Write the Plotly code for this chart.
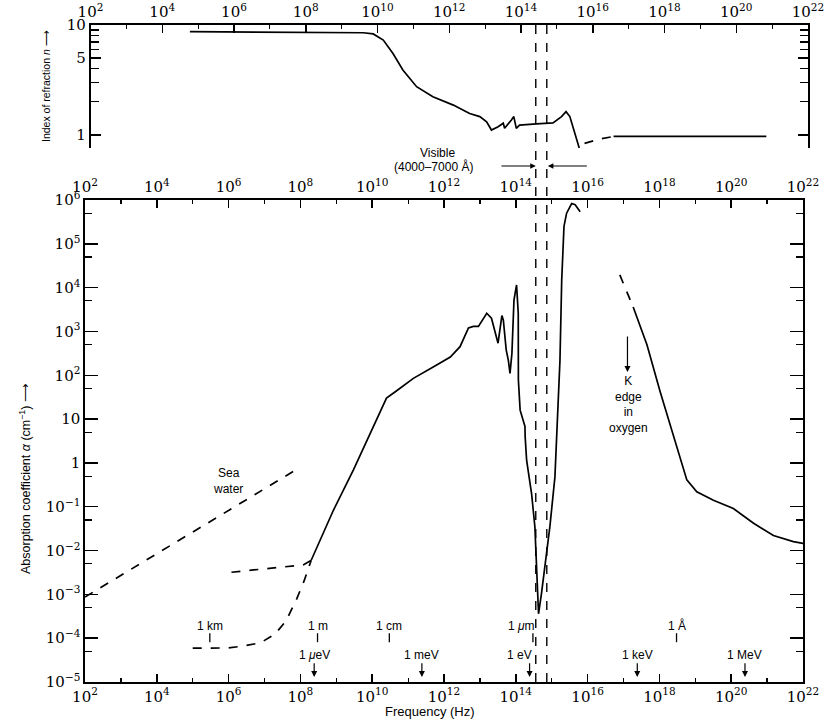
import numpy as np
import plotly.graph_objects as go

# ---------------- DATA ----------------
# Index of refraction n (top panel)
n_freq = [5.9e4, 1.0e9, 4.0e9, 7.6e9, 1.45e10, 2.7e10, 5.1e10, 1.23e11, 3.5e11, 1.3e12, 3.7e12,
          7.1e12, 1.1e13, 1.5e13, 2.3e13, 3.2e13, 3.5e13, 5.4e13, 6.3e13, 7.4e13, 9.1e13,
          2.7e14, 7.8e14, 1.35e15, 1.8e15, 2.3e15, 4.2e15]
n_vals = [8.7, 8.6, 8.5, 8.3, 7.3, 5.5, 3.9, 2.75, 2.23, 1.87, 1.57,
          1.47, 1.32, 1.11, 1.19, 1.28, 1.15, 1.37, 1.47, 1.15, 1.23,
          1.26, 1.29, 1.47, 1.63, 1.47, 0.76]
n_dash_freq = [5.9e15, 1.6e16, 3.8e16]
n_dash_vals = [0.84, 0.92, 0.97]
n_xray_freq = [3.8e16, 6.9e20]
n_xray_vals = [0.97, 0.97]

# Absorption coefficient alpha (bottom panel), cm^-1
abs_freq = [2.0e8, 8.3e8, 3.0e9, 8.7e9, 2.5e10, 4.4e10, 1.4e11, 5.0e11, 1.5e12, 2.8e12,
            4.8e12, 6.6e12, 9.1e12, 1.55e13, 2.1e13, 3.2e13, 4.1e13, 4.5e13, 5.4e13, 6.2e13,
            6.9e13, 7.8e13, 8.9e13, 1.05e14, 1.17e14, 1.18e14, 1.32e14, 1.8e14, 1.82e14, 2.0e14,
            2.75e14, 3.4e14, 4.0e14, 4.3e14, 5.2e14, 6.5e14, 8.9e14, 1.23e15, 1.5e15, 1.7e15,
            1.9e15, 2.1e15, 2.2e15, 2.6e15, 3.6e15, 4.5e15, 6.2e15]
abs_vals = [6.0e-3, 8.3e-2, 0.69, 4.7, 30, 42, 85, 155, 260, 450,
            1200, 1300, 1300, 2600, 2000, 540, 2300, 1800, 380, 220,
            110, 320, 5200, 11500, 2600, 78, 16, 6.8, 4.0, 1.15,
            0.2, 0.035, 2.5e-3, 3.6e-4, 1.05e-3, 4.3e-3, 0.035, 0.48, 16, 220,
            1.5e4, 1.2e5, 2.5e5, 5.0e5, 8.3e5, 7.8e5, 5.4e5]
sea_freq = [1.0e2, 7.6e7]
sea_vals = [8.7e-4, 0.7]
lowA_freq = [1.2e6, 2.7e7, 1.2e8, 2.0e8]
lowA_vals = [3.2e-3, 4.1e-3, 4.7e-3, 6.0e-3]
lowB_freq = [1.0e5, 1.0e6, 2.5e6, 7.9e6, 2.0e7, 4.0e7, 7.9e7, 1.26e8, 2.0e8]
lowB_vals = [5.9e-5, 6.0e-5, 6.6e-5, 7.9e-5, 1.26e-4, 2.5e-4, 7.9e-4, 2.0e-3, 6.0e-3]
xr_dash_freq = [7.9e16, 1.86e17]
xr_dash_vals = [1.95e4, 3.6e3]
xr_freq = [1.86e17, 4.5e17, 1.05e18, 2.45e18, 5.8e18, 1.1e19, 3.2e19, 1.15e20, 4.2e20,
           1.5e21, 5.4e21, 1.0e22]
xr_vals = [3.6e3, 500, 42, 4.0, 0.41, 0.22, 0.14, 0.091, 0.042, 0.022, 0.016, 0.0145]

visible_band = [3.6e14, 7.3e14]
k_edge_freq = 1.29e17

wl_labels = ["1 km", "1 m", "1 cm", "1 <i>μ</i>m", "1 Å"]
wl_freq = [3.0e5, 3.0e8, 3.0e10, 3.0e14, 3.0e18]
en_labels = ["1 <i>μ</i>eV", "1 meV", "1 eV", "1 keV", "1 MeV"]
en_freq = [2.42e8, 2.42e11, 2.42e14, 2.42e17, 2.42e20]

x_exps = list(range(2, 23, 2))
x_tick_text = [f"10<sup>{k}</sup>" for k in x_exps]
y_exps = list(range(-5, 7))
y_tick_text = ["10<sup>−5</sup>", "10<sup>−4</sup>", "10<sup>−3</sup>", "10<sup>−2</sup>",
               "10<sup>−1</sup>", "1", "10", "10<sup>2</sup>", "10<sup>3</sup>",
               "10<sup>4</sup>", "10<sup>5</sup>", "10<sup>6</sup>"]
n_tick_vals = [1, 5, 10]
n_tick_text = ["1", "5", "10"]
n_minor_vals = [2, 3, 4, 6, 7, 8, 9]

# ---------------- LAYOUT HELPERS ----------------
W, H = 836, 719
ML, MR, MT, MB = 85, 28, 25, 37
PW = W - ML - MR
PH = H - MT - MB


def px(x):  # page x pixel -> paper fraction
    return (x - ML) / PW


def py(y):  # page y pixel -> paper fraction
    return (H - MB - y) / PH


LW = 1.7
solid = dict(color="black", width=LW)
dashed = dict(color="black", width=LW, dash="dash")
serif = dict(family="DejaVu Serif", size=15, color="black")
sans = "Liberation Sans Narrow, Liberation Sans, Arial, sans-serif"

fig = go.Figure()


def add(x, y, line, xa="x2", ya="y2"):
    fig.add_trace(go.Scatter(x=x, y=y, mode="lines", line=line, xaxis=xa, yaxis=ya,
                             hoverinfo="skip", showlegend=False))


# top panel
add(n_freq, n_vals, solid, "x", "y")
add(n_dash_freq, n_dash_vals, dashed, "x", "y")
add(n_xray_freq, n_xray_vals, solid, "x", "y")

# bottom panel
add(abs_freq, abs_vals, solid)
add(sea_freq, sea_vals, dashed)
add(lowA_freq, lowA_vals, dashed)
add(lowB_freq, lowB_vals, dashed)
add(xr_dash_freq, xr_dash_vals, dashed)
add(xr_freq, xr_vals, solid)

# wavelength tick marks
tx, ty = [], []
for f in wl_freq:
    tx += [f, f, None]
    ty += [1.3e-4, 8.1e-5, None]
add(tx, ty, dict(color="black", width=1.3))

# dummy trace for top labels of bottom panel
fig.add_trace(go.Scatter(x=[1e2], y=[1], xaxis="x3", yaxis="y2", mode="markers",
                         marker=dict(opacity=0), hoverinfo="skip", showlegend=False))

xminor = [10.0 ** k for k in range(3, 22, 2)]
common_x = dict(type="log", range=[2, 22], tickvals=[10.0 ** k for k in x_exps],
                ticktext=x_tick_text, ticks="inside", ticklen=8, tickwidth=1.5,
                tickcolor="black", showline=True, linecolor="black", linewidth=1.6,
                showgrid=False, zeroline=False, tickfont=serif, automargin=False,
                minor=dict(tickvals=xminor, ticks="inside", ticklen=4, tickwidth=1.2,
                           tickcolor="black", showgrid=False))

yminor = [5.0 * 10.0 ** k for k in range(-5, 6)]

fig.update_layout(
    width=W, height=H,
    margin=dict(l=ML, r=MR, t=MT, b=MB, pad=0),
    paper_bgcolor="white", plot_bgcolor="white",
    showlegend=False,
    xaxis=dict(**common_x, domain=[px(90.5), 1], anchor="y", side="top"),
    yaxis=dict(type="log", range=[-0.12, 1], domain=[py(148.2), 1], anchor="x",
               tickvals=n_tick_vals, ticktext=n_tick_text, ticks="inside", ticklen=10,
               tickwidth=1.3, tickcolor="black", showline=True, linecolor="black",
               linewidth=1.6, mirror="ticks", showgrid=False, zeroline=False,
               tickfont=serif, automargin=False,
               minor=dict(tickvals=n_minor_vals, ticks="inside", ticklen=8, tickwidth=1.2,
                          tickcolor="black", showgrid=False)),
    xaxis2=dict(**common_x, domain=[0, px(803)], anchor="y2", side="bottom"),
    xaxis3=dict(**common_x, anchor="y2", side="top", overlaying="x2"),
    yaxis2=dict(type="log", range=[-5, 6], domain=[0, py(200)], anchor="x2",
                tickvals=[10.0 ** m for m in y_exps], ticktext=y_tick_text,
                ticks="inside", ticklen=13, tickwidth=1.4, tickcolor="black",
                showline=True, linecolor="black", linewidth=1.6, mirror="ticks",
                showgrid=False, zeroline=False, tickfont=serif, automargin=False,
                minor=dict(tickvals=yminor, ticks="inside", ticklen=7, tickwidth=1.2,
                           tickcolor="black", showgrid=False)),
)

# visible band dashed lines spanning both panels
for f in visible_band:
    fig.add_shape(type="line", xref="x2", yref="paper", x0=f, x1=f, y0=0, y1=1,
                  line=dict(color="black", width=1.4, dash="dash"))

ann = []


def text(x, y, s, size=12, angle=0, xanchor="center", xref="paper", yref="paper",
         font=sans, xshift=0):
    ann.append(dict(x=x, y=y, xref=xref, yref=yref, text=s, showarrow=False,
                    textangle=angle, xanchor=xanchor, yanchor="middle", xshift=xshift,
                    font=dict(family=font, size=size, color="black")))


text(px(46), py(86), "Index of refraction <i>n</i> ⟶", size=10.5, angle=-90)
text(px(25), py(479), "Absorption coefficient <i>α</i> (cm<sup>−1</sup>) ⟶", size=12.5, angle=-90)
text(px(430), py(711), "Frequency (Hz)", size=13)
text(px(437), py(153), "Visible", size=12)
text(px(433), py(166), "(4000–7000 Å)", size=12)
text(px(228), py(481), "Sea<br>water", size=12)
text(px(628), py(404), "K<br>edge<br>in<br>oxygen", size=12)

for f, s in zip(wl_freq, wl_labels):
    right = s.endswith("</i>m")
    text(np.log10(f), -3.72, s, size=12, xref="x2", yref="y2",
         xanchor="right" if right else "center", xshift=4 if right else 0)
for f, s in zip(en_freq, en_labels):
    right = s == "1 eV"
    text(np.log10(f), -4.39, s, size=12, xref="x2", yref="y2",
         xanchor="right" if right else "center", xshift=4 if right else 0)
    ann.append(dict(x=np.log10(f), y=np.log10(1.3e-5), xref="x2", yref="y2",
                    ax=np.log10(f), ay=np.log10(2.9e-5), axref="x2", ayref="y2",
                    text="", showarrow=True, arrowhead=2, arrowsize=1, arrowwidth=1.2,
                    arrowcolor="black"))

# K edge arrow
ann.append(dict(x=np.log10(k_edge_freq), y=np.log10(118), xref="x2", yref="y2",
                ax=np.log10(k_edge_freq), ay=np.log10(830), axref="x2", ayref="y2",
                text="", showarrow=True, arrowhead=2, arrowsize=1, arrowwidth=1.2,
                arrowcolor="black"))

# visible arrows
ann.append(dict(x=np.log10(visible_band[0]), y=py(166), xref="x2", yref="paper",
                ax=13.56, ay=0, axref="x2", ayref="pixel", text="", showarrow=True,
                arrowhead=2, arrowsize=1, arrowwidth=1.1, arrowcolor="black"))
ann.append(dict(x=np.log10(visible_band[1]) + 0.03, y=py(166), xref="x2", yref="paper",
                ax=16.02, ay=0, axref="x2", ayref="pixel", text="", showarrow=True,
                arrowhead=2, arrowsize=1, arrowwidth=1.1, arrowcolor="black"))

fig.update_layout(annotations=ann)
# remove the default page margin so the 836x719 figure fills the window exactly
fig.write_html("out.html",
               config={"displayModeBar": False, "staticPlot": True},
               post_script="document.body.style.margin='0px';"
                           "document.body.style.overflow='hidden';")
